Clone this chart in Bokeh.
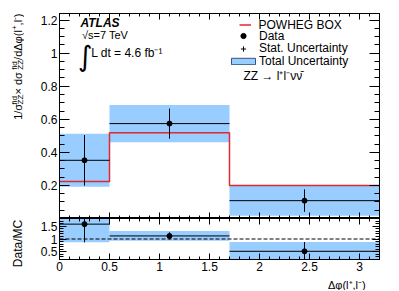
import math
from bokeh.plotting import figure
from bokeh.layouts import column, row
from bokeh.models import (Range1d, FixedTicker, LinearAxis, Span, Label, Legend,
                          LegendItem, ColumnDataSource)
from bokeh.embed import file_html
from bokeh.resources import INLINE

# ---------------- data ----------------
bin_edges = [0.0, 0.5, 1.7, 3.2]
bin_centers = [0.25, 1.1, 2.45]
mc_powheg = [0.224, 0.518, 0.200]
data_vals = [0.352, 0.574, 0.108]
stat_err = [0.153, 0.091, 0.068]
total_err = [0.160, 0.113, 0.091]

ratio_vals = [1.58, 1.12, 0.52]
ratio_stat = [0.71, 0.14, 0.36]
ratio_total = [0.71, 0.19, 0.36]

x_tick_vals = [0, 0.5, 1, 1.5, 2, 2.5, 3]
x_tick_labels = ["0", "0.5", "1", "1.5", "2", "2.5", "3"]
y_tick_vals = [0.2, 0.4, 0.6, 0.8, 1.0, 1.2]
y_tick_labels = ["0.2", "0.4", "0.6", "0.8", "1", "1.2"]
r_tick_vals = [0.5, 1.0, 1.5]
r_tick_labels = ["0.5", "1", "1.5"]

# ---------------- layout / style ----------------
FONT = "Liberation Sans"
BAND = "#99ccff"
RED = "#e0282e"
X0, X1 = 0.0, 3.2
Y0, Y1 = 0.0, 1.24
R0, R1 = 0.2, 1.8
LFW = 24                  # width of left strip holding the y titles
LEFT, RIGHT, FW = 35, 16, 320
TOP_B, TOP_FH = 13, 205
R_FH, R_BOT = 41, 16
XLAB_H = 15
F_LEFT = LFW + LEFT       # 59
T_TOP = TOP_B             # 13
T_BOT = T_TOP + TOP_FH    # 218
R_BOTTOM = T_BOT + R_FH   # 259
TOTAL_H = TOP_B + TOP_FH + R_FH + R_BOT + XLAB_H


def dx(px):
    return X0 + (X1 - X0) * (px - F_LEFT) / FW


def dy_top(py):
    return Y0 + (Y1 - Y0) * (T_BOT - py) / TOP_FH


x_minor = [round(0.1 * i, 2) for i in range(33)]
y_minor = [round(0.05 * i, 3) for i in range(25)]
r_minor = [round(0.2 + 0.1 * i, 2) for i in range(17)]


def style_axis(ax, major_in, minor_in, labels=None, hidden_vals=None):
    ax.major_tick_in = major_in
    ax.major_tick_out = 0
    ax.minor_tick_in = minor_in
    ax.minor_tick_out = 0
    ax.axis_line_color = "black"
    ax.major_tick_line_color = "black"
    ax.minor_tick_line_color = "black"
    if labels is None:
        ax.major_label_overrides = {float(v): "" for v in hidden_vals}
        ax.major_label_text_font_size = "1px"
        ax.major_label_standoff = 0
    else:
        vals, labs = labels
        ax.major_label_overrides = {float(v): l for v, l in zip(vals, labs)}
        ax.major_label_text_font = FONT
        ax.major_label_text_font_size = "12px"
        ax.major_label_text_color = "black"
        ax.major_label_standoff = 2


def add_text(fig, x, y, text, size="12px", style="normal", align="left",
             baseline="middle", angle=0.0, font=FONT):
    fig.add_layout(Label(x=x, y=y, text=text, text_font=font,
                         text_font_size=size, text_font_style=style,
                         text_align=align, text_baseline=baseline,
                         angle=angle, text_color="black"))


def pixel_fig(width, height, x_start, y_top):
    f = figure(width=width, height=height,
               x_range=Range1d(x_start, x_start + width),
               y_range=Range1d(y_top + height, y_top),
               x_axis_location=None, y_axis_location=None,
               output_backend="svg", toolbar_location=None,
               min_border=0, outline_line_color=None)
    f.grid.visible = False
    return f


# ---------------- top panel ----------------
p = figure(width=LEFT + FW + RIGHT, height=TOP_B + TOP_FH,
           x_range=Range1d(X0, X1), y_range=Range1d(Y0, Y1),
           output_backend="svg", toolbar_location=None,
           min_border_left=LEFT, min_border_right=RIGHT,
           min_border_top=TOP_B, min_border_bottom=0)
p.xgrid.visible = False
p.ygrid.visible = False
p.outline_line_color = "black"

xt = FixedTicker(ticks=x_tick_vals, minor_ticks=x_minor)
yt = FixedTicker(ticks=y_tick_vals, minor_ticks=y_minor)
p.xaxis.ticker = xt
p.yaxis.ticker = yt
style_axis(p.xaxis[0], 6, 3, hidden_vals=x_tick_vals)
style_axis(p.yaxis[0], 10, 5, (y_tick_vals, y_tick_labels))
ax_r = LinearAxis(ticker=yt)
style_axis(ax_r, 10, 5, hidden_vals=y_tick_vals)
p.add_layout(ax_r, "right")
ax_t = LinearAxis(ticker=xt)
style_axis(ax_t, 6, 3, hidden_vals=x_tick_vals)
p.add_layout(ax_t, "above")

src = ColumnDataSource(dict(
    left=bin_edges[:-1], right=bin_edges[1:], center=bin_centers,
    data=data_vals,
    tot_lo=[d - e for d, e in zip(data_vals, total_err)],
    tot_hi=[d + e for d, e in zip(data_vals, total_err)],
    st_lo=[d - e for d, e in zip(data_vals, stat_err)],
    st_hi=[d + e for d, e in zip(data_vals, stat_err)],
))
p.quad(left="left", right="right", bottom="tot_lo", top="tot_hi", source=src,
       fill_color=BAND, line_color=None)
r_mc = p.step(x=bin_edges, y=mc_powheg + [mc_powheg[-1]], mode="after",
              line_color=RED, line_width=1.5)
p.segment(x0="left", x1="right", y0="data", y1="data", source=src,
          line_color="black", line_width=1)
p.segment(x0="center", x1="center", y0="st_lo", y1="st_hi", source=src,
          line_color="black", line_width=1)
r_data = p.scatter(x="center", y="data", source=src, marker="circle", size=5,
                   fill_color="black", line_color="black")
# legend-only renderers (hidden on the plot, still drawn in the legend)
r_stat = p.scatter(x="center", y="data", source=src, marker="cross", size=5,
                   line_color="black", visible=False)
r_tot = p.quad(left="left", right="right", bottom="tot_lo", top="tot_hi",
               source=src, fill_color=BAND, line_color="#335577",
               line_width=1, visible=False)

ROW_H = 14.5


def mk_legend(item, glyph_left_px, center_py, gw, gh, standoff):
    lg = Legend(items=[item], location=(glyph_left_px - F_LEFT,
                                        T_BOT - (center_py + ROW_H / 2)),
                glyph_width=gw, glyph_height=gh, label_height=13,
                label_standoff=standoff, padding=0, margin=0, spacing=0,
                border_line_color=None, background_fill_alpha=0,
                inactive_fill_alpha=0,
                label_text_font=FONT, label_text_font_size="12px",
                label_text_color="black")
    p.add_layout(lg)


mk_legend(LegendItem(label="POWHEG BOX", renderers=[r_mc]), 238.5, 24.5, 12, 13, 8)
mk_legend(LegendItem(label="Data", renderers=[r_data]), 228, 35.6, 30, 13, 1)
mk_legend(LegendItem(label="Stat. Uncertainty", renderers=[r_stat]), 228, 48.0, 30, 13, 1)
mk_legend(LegendItem(label="Total Uncertainty", renderers=[r_tot]), 228, 61.2, 30, 8, 1)

add_text(p, dx(80), dy_top(22.7), "ATLAS", "12px", "bold italic")
add_text(p, dx(81.5), dy_top(34.3), "√s=7 TeV", "11px")
add_text(p, dx(77.5), dy_top(55.5), "∫", "28px", font="DejaVu Sans")
add_text(p, dx(90.7), dy_top(52.7), "L dt = 4.6 fb⁻¹", "12px")
add_text(p, dx(243), dy_top(75), "ZZ → l⁺l⁻νν̄", "12px")

# ---------------- ratio panel ----------------
q = figure(width=LEFT + FW + RIGHT, height=R_FH + R_BOT,
           x_range=Range1d(X0, X1), y_range=Range1d(R0, R1),
           output_backend="svg", toolbar_location=None,
           min_border_left=LEFT, min_border_right=RIGHT,
           min_border_top=0, min_border_bottom=R_BOT)
q.xgrid.visible = False
q.ygrid.visible = False
q.outline_line_color = "black"
rt = FixedTicker(ticks=r_tick_vals, minor_ticks=r_minor)
q.xaxis.ticker = xt
q.yaxis.ticker = rt
style_axis(q.xaxis[0], 6, 3, (x_tick_vals, x_tick_labels))
style_axis(q.yaxis[0], 7, 4, (r_tick_vals, r_tick_labels))
qa_r = LinearAxis(ticker=rt)
style_axis(qa_r, 7, 4, hidden_vals=r_tick_vals)
q.add_layout(qa_r, "right")
qa_t = LinearAxis(ticker=xt)
style_axis(qa_t, 6, 3, hidden_vals=x_tick_vals)
q.add_layout(qa_t, "above")

rsrc = ColumnDataSource(dict(
    left=bin_edges[:-1], right=bin_edges[1:], center=bin_centers,
    r=ratio_vals,
    tot_lo=[d - e for d, e in zip(ratio_vals, ratio_total)],
    tot_hi=[d + e for d, e in zip(ratio_vals, ratio_total)],
    st_lo=[d - e for d, e in zip(ratio_vals, ratio_stat)],
    st_hi=[d + e for d, e in zip(ratio_vals, ratio_stat)],
))
q.quad(left="left", right="right", bottom="tot_lo", top="tot_hi", source=rsrc,
       fill_color=BAND, line_color=None)
q.add_layout(Span(location=1.0, dimension="width", line_color="black",
                  line_width=1, line_dash="4 2"))
q.segment(x0="left", x1="right", y0="r", y1="r", source=rsrc,
          line_color="black", line_width=1)
q.segment(x0="center", x1="center", y0="st_lo", y1="st_hi", source=rsrc,
          line_color="black", line_width=1)
q.scatter(x="center", y="r", source=rsrc, marker="circle", size=5,
          fill_color="black", line_color="black")

# ---------------- left strip: rotated y titles (page pixel coordinates) ----
lf = pixel_fig(LFW, TOTAL_H, 0, 0)
pieces = [
    ("1/σ", 0.0, "main"), ("fid", 15.4, "sup"), ("ZZ", 15.4, "sub"),
    (" × dσ", 25.2, "main"), ("fid", 50.1, "sup"), ("ZZ", 50.1, "sub"),
    ("/dΔφ(l", 59.9, "main"), ("+", 89.7, "sup"), (",l", 94.4, "main"),
    ("-", 99.9, "sup"), (")", 102.6, "main"),
]
total_len = 106.3
start_py = T_TOP + total_len
base_x = {"main": 17.5, "sup": 13.5, "sub": 20.0}
fsize = {"main": "11px", "sup": "8px", "sub": "8px"}
for txt, off, kind in pieces:
    add_text(lf, base_x[kind], start_py - off, txt, fsize[kind],
             align="left", baseline="alphabetic", angle=math.pi / 2)
add_text(lf, 17.5, 243, "Data/MC", "12px", align="center",
         baseline="alphabetic", angle=math.pi / 2)

# ---------------- bottom strip: x title ----------------
xf = pixel_fig(LEFT + FW + RIGHT, XLAB_H, LFW, R_BOTTOM + R_BOT)
add_text(xf, F_LEFT + FW, 284.5, "Δφ(l⁺,l⁻)", "11px", align="right",
         baseline="alphabetic")

layout = row(lf, column(p, q, xf, spacing=0), spacing=0)
open("out.html", "w").write(file_html(layout, INLINE))
